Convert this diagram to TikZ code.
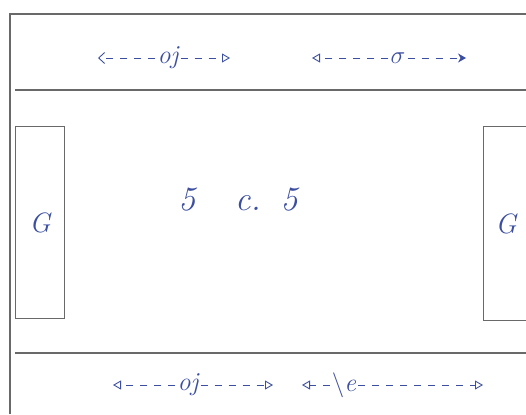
\documentclass[tikz,border=0pt]{standalone}
\usetikzlibrary{arrows.meta}
\definecolor{caneta}{RGB}{60,78,160}
\definecolor{grafite}{RGB}{105,105,105}

\begin{document}
\begin{tikzpicture}[x=1pt,y=-1pt]

  % ── Estilos do esboço ────────────────────────
  \tikzset{
    linha/.style = {draw=grafite, line width=1.3pt},
    trave/.style = {draw=grafite, line width=1.1pt, text=caneta,
                    font=\fontsize{28}{30}\selectfont\itshape, anchor=north west},
    mov/.style   = {draw=caneta, line width=0.9pt, dash pattern=on 7pt off 7pt},
    ponta/.style = {-{Triangle[open, length=8pt, width=9pt]}},
    letra/.style = {text=caneta, font=\fontsize{26}{28}\selectfont\itshape, inner sep=2pt}
  }

  \useasboundingbox (0,0) rectangle (526,414);

  % =========================================================
  % 1. LINHAS DO CAMPO
  % =========================================================
  \draw[linha] (10,414) -- (10,14) -- (526,14);
  \draw[linha] (15,90) -- (526,90);
  \draw[linha] (15,353) -- (526,353);

  % Traves (goleiros)
  \node[trave, minimum width=49pt, minimum height=192pt] (golE) at (15,126) {G};
  \node[trave, minimum width=45pt, minimum height=194pt] (golD) at (483,126) {G};

  % Formato do jogo
  \node[letra, font=\fontsize{34}{38}\selectfont\itshape] (formato) at (238,200)
    {5\hspace{40pt}c.\hspace{20pt}5};

  % =========================================================
  % 2. DESLOCAMENTOS (faixas de cima e de baixo)
  % =========================================================

  % Faixa de cima, esquerda
  \node[letra] (ojA) at (168,58) {oj};
  \coordinate (ojAe) at (98,58);
  \coordinate (ojAd) at (230,58);
  \draw[mov, -{Straight Barb[length=6pt, width=11pt]}] (ojA) -- (ojAe);
  \draw[mov, ponta] (ojA) -- (ojAd);

  % Faixa de cima, direita
  \node[letra] (sigA) at (398,58) {$\sigma$};
  \coordinate (sigAe) at (312,58);
  \coordinate (sigAd) at (466,58);
  \draw[mov, ponta] (sigA) -- (sigAe);
  \draw[mov, -{Stealth[length=8pt, width=9pt]}] (sigA) -- (sigAd);

  % Faixa de baixo, esquerda
  \node[letra] (ojB) at (188,385) {oj};
  \coordinate (ojBe) at (113,385);
  \coordinate (ojBd) at (273,385);
  \draw[mov, ponta] (ojB) -- (ojBe);
  \draw[mov, ponta] (ojB) -- (ojBd);

  % Faixa de baixo, direita
  \node[letra] (eB) at (344,385) {$\backslash$e};
  \coordinate (eBe) at (302,385);
  \coordinate (eBd) at (483,385);
  \draw[mov, ponta] (eB) -- (eBe);
  \draw[mov, ponta] (eB) -- (eBd);

\end{tikzpicture}
\end{document}
